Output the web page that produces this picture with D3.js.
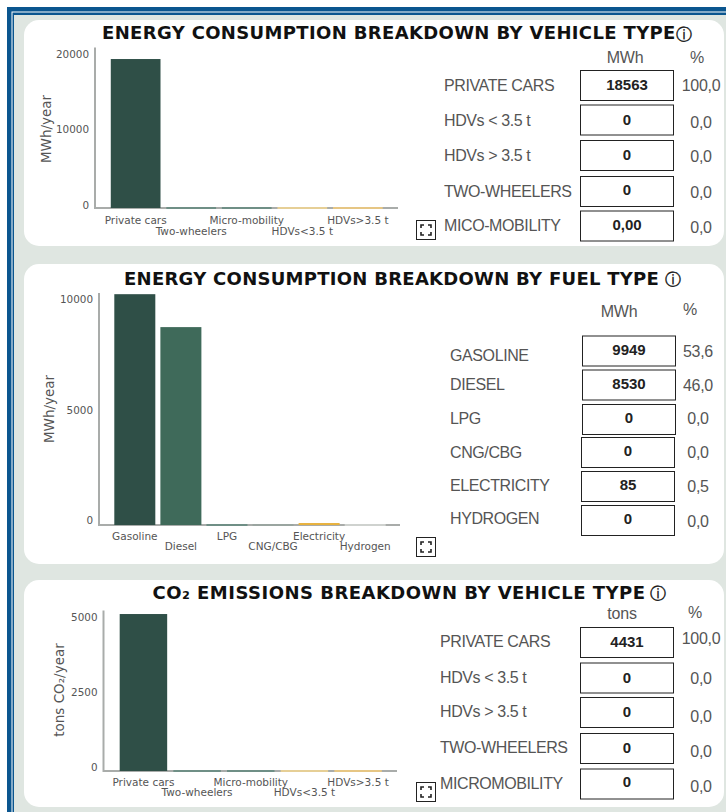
<!DOCTYPE html>
<html><head><meta charset="utf-8">
<script src="https://cdn.jsdelivr.net/npm/d3@7"></script>
<style>
html,body{margin:0;padding:0;background:#fff;overflow:hidden}
svg{display:block}
</style></head><body><svg id="c" width="726" height="812"></svg>
<script>
// ---- data ----
const vehicleCats = ["Private cars","Two-wheelers","Micro-mobility","HDVs<3.5 t","HDVs>3.5 t"];
const fuelCats = ["Gasoline","Diesel","LPG","CNG/CBG","Electricity","Hydrogen"];
const energyVehicleBars = [18563,0,0,0,0];
const energyFuelBars = [9949,8530,0,0,85,0];
const co2VehicleBars = [4890,0,0,0,0];
const energyVehicleTicks = [0,10000,20000];
const energyFuelTicks = [0,5000,10000];
const co2VehicleTicks = [0,2500,5000];
const vehicleColors = ["#2f4f47","#6f8f86","#6f8f86","#e6cf96","#e6c684"];
const fuelColors = ["#2f4f47","#3f6a5a","#6f8f86","#9aa5a0","#e8b23e","#cfd2cf"];

const rows1 = ["PRIVATE CARS","HDVs < 3.5 t","HDVs > 3.5 t","TWO-WHEELERS","MICO-MOBILITY"];
const vals1 = ["18563","0","0","0","0,00"];
const pct1 = ["100,0","0,0","0,0","0,0","0,0"];
const rows2 = ["GASOLINE","DIESEL","LPG","CNG/CBG","ELECTRICITY","HYDROGEN"];
const vals2 = ["9949","8530","0","0","85","0"];
const pct2 = ["53,6","46,0","0,0","0,0","0,5","0,0"];
const rows3 = ["PRIVATE CARS","HDVs < 3.5 t","HDVs > 3.5 t","TWO-WHEELERS","MICROMOBILITY"];
const vals3 = ["4431","0","0","0","0"];
const pct3 = ["100,0","0,0","0,0","0,0","0,0"];

// ---- layout ----
const svg = d3.select("#c");
const BG="#dfe6e1", BLUE="#0b568f", GRAY="#555", AX="#a9acaa";
const SANS='"DejaVu Sans",sans-serif', ARIAL='"Liberation Sans",Arial,sans-serif';

svg.append("rect").attr("x",7).attr("y",7).attr("width",719).attr("height",805).attr("fill",BLUE);
svg.append("rect").attr("x",11.5).attr("y",11.5).attr("width",714.5).attr("height",800.5).attr("fill","#fff");
svg.append("rect").attr("x",12.5).attr("y",12.5).attr("width",713.5).attr("height",799.5).attr("fill",BLUE);
svg.append("rect").attr("x",14).attr("y",15).attr("width",712).attr("height",797).attr("fill",BG);

const panels = [
 {card:[24,20,700,226], title:"ENERGY CONSUMPTION BREAKDOWN BY VEHICLE TYPE", tx:102, ty:39, ls:.35, icon:[683.5,34],
  cats:vehicleCats, bars:energyVehicleBars, colors:vehicleColors, ticks:energyVehicleTicks, max:20000,
  axX:95, axRight:398, top:47.5, base:208, tickTop:54, tickBase:205, band:[108,385.5], pad:[.105,.05],
  xl:[223.5,234.5], ylab:"MWh/year", ylx:46, yly:129,
  rows:rows1, vals:vals1, pct:pct1, unit:"MWh", ux:625, uy:57, px:697, py:57,
  lx:444, ly:[85,120,155,191,225], bx:580, bw:93, by:[70,104.5,140,176,210.5], bh:30,
  vy:[85,120,155,190,225], ptx:701, pty:[85,122,156,192,227], expand:[416,220]},
 {card:[24,264,700,300], title:"ENERGY CONSUMPTION BREAKDOWN BY FUEL TYPE", tx:124, ty:285, ls:.27, icon:[672.5,279],
  cats:fuelCats, bars:energyFuelBars, colors:fuelColors, ticks:energyFuelTicks, max:10000,
  axX:99, axRight:400, top:293, base:525, tickTop:299.5, tickBase:520.5, band:[112,388], pad:[.11,.05],
  xl:[540,550], ylab:"MWh/year", ylx:49, yly:409,
  rows:rows2, vals:vals2, pct:pct2, unit:"MWh", ux:619, uy:311, px:690, py:309,
  lx:450, ly:[355.5,384,418,452,485,518], bx:[582,582,582,581,581,581], bw:93, by:[335.5,369.5,404,437,471,505], bh:30,
  vy:[350,384,417.5,451,485,519], ptx:698, pty:[351,385,418,452,486,521], expand:[416,537]},
 {card:[24,580,700,227], title:"CO\u2082 EMISSIONS BREAKDOWN BY VEHICLE TYPE", tx:152.5, ty:599, ls:.48, icon:[658,593],
  cats:vehicleCats, bars:co2VehicleBars, colors:vehicleColors, ticks:co2VehicleTicks, max:5000,
  axX:103.5, axRight:397, top:610.5, base:771, tickTop:617, tickBase:767, band:[117,384.5], pad:[.115,.05],
  xl:[785.5,796], ylab:"tons CO\u2082/year", ylx:59, yly:690,
  rows:rows3, vals:vals3, pct:pct3, unit:"tons", ux:622, uy:613, px:695, py:612,
  lx:440, ly:[641.5,677,711,747,783], bx:580, bw:93, by:[627,662.5,697,733,768.5], bh:30,
  vy:[642,678,712,748,782], ptx:701, pty:[638,678,716,751,786], expand:[416,782]}
];

panels.forEach(p=>{
  const g = svg.append("g");
  g.append("rect").attr("x",p.card[0]).attr("y",p.card[1]).attr("width",p.card[2]).attr("height",p.card[3])
    .attr("rx",15).attr("fill","#fff");

  // title and info mark
  g.append("text").attr("x",p.tx).attr("y",p.ty).attr("font-family",SANS).attr("font-weight",700)
    .attr("font-size",18).attr("letter-spacing",p.ls).attr("fill","#111").text(p.title);
  g.append("text").attr("x",p.icon[0]).attr("y",p.icon[1]+5.5).attr("text-anchor","middle")
    .attr("font-family",SANS).attr("font-size",16).attr("fill","#111").attr("stroke","#111").attr("stroke-width",.35).text("\u24D8");

  // scales
  const x = d3.scaleBand().domain(p.cats).range(p.band).paddingInner(p.pad[0]).paddingOuter(p.pad[1]);
  const y = d3.scaleLinear().domain([0,p.max]).range([p.base,p.top]);
  const yTick = d3.scaleLinear().domain([0,p.max]).range([p.tickBase,p.tickTop]);

  // y axis labels
  const ya = g.append("g").attr("transform",`translate(${p.axX},0)`)
    .call(d3.axisLeft(yTick).tickValues(p.ticks).tickSize(0).tickPadding(6).tickFormat(d3.format("d")));
  ya.select(".domain").remove();
  ya.selectAll("text").attr("font-family",SANS).attr("font-size",10.4).attr("fill",GRAY);

  g.append("line").attr("x1",p.axX).attr("x2",p.axX).attr("y1",p.top).attr("y2",p.base+1).attr("stroke",AX).attr("stroke-width",2);

  // x axis
  const xa = g.append("g").attr("transform",`translate(0,${p.base})`)
    .call(d3.axisBottom(x).tickSize(0));
  xa.select(".domain").remove();
  xa.selectAll("text").attr("font-family",SANS).attr("font-size",10.5).attr("fill",GRAY)
    .attr("dy",null).attr("y",(d,i)=>p.xl[i%2]-p.base);
  g.append("line").attr("x1",p.axX).attr("x2",p.axRight).attr("y1",p.base).attr("y2",p.base).attr("stroke",AX).attr("stroke-width",2);

  // bars
  g.selectAll("rect.bar").data(p.bars).join("rect").attr("class","bar")
    .attr("x",(d,i)=>x(p.cats[i])).attr("width",x.bandwidth())
    .attr("y",d=>Math.min(y(d),p.base-1)).attr("height",d=>Math.max(p.base-y(d),2))
    .attr("fill",(d,i)=>p.colors[i]);

  g.append("text").attr("transform",`translate(${p.ylx},${p.yly}) rotate(-90)`).attr("text-anchor","middle")
    .attr("dy","0.35em").attr("font-family",SANS).attr("font-size",13.5).attr("fill",GRAY).text(p.ylab);

  // table
  const txt=(x0,y0,s,fs,anchor,w,col,sp)=>g.append("text").attr("x",x0).attr("y",y0).attr("dy","0.35em")
    .attr("text-anchor",anchor).attr("font-family",ARIAL).attr("font-size",fs).attr("font-weight",w)
    .attr("letter-spacing",sp||0).attr("fill",col).text(s);
  txt(p.ux,p.uy,p.unit,16,"middle",400,GRAY,-.2);
  txt(p.px,p.py,"%",16,"middle",400,GRAY);
  p.rows.forEach((r,i)=>{
    txt(p.lx,p.ly[i],r,16,"start",400,GRAY,-.4);
    const bx = Array.isArray(p.bx)?p.bx[i]:p.bx;
    g.append("rect").attr("x",bx+.5).attr("y",p.by[i]+.5).attr("width",p.bw).attr("height",p.bh)
      .attr("fill","#fff").attr("stroke","#222").attr("stroke-width",1);
    txt(bx+p.bw/2+.5,p.vy[i],p.vals[i],15,"middle",700,"#222");
    txt(p.ptx,p.pty[i],p.pct[i],16,"middle",400,GRAY,-.3);
  });

  // expand control
  const [ex,ey]=p.expand;
  g.append("rect").attr("x",ex+.5).attr("y",ey+.5).attr("width",19).attr("height",19).attr("fill","#fff").attr("stroke","#222");
  const a=5,b=14,l=3;
  g.append("path").attr("fill","none").attr("stroke","#222").attr("stroke-width",1.6).attr("d",
    `M${ex+a} ${ey+a+l}V${ey+a}H${ex+a+l}M${ex+b+1-l} ${ey+a}H${ex+b+1}V${ey+a+l}M${ex+a} ${ey+b+1-l}V${ey+b+1}H${ex+a+l}M${ex+b+1-l} ${ey+b+1}H${ex+b+1}V${ey+b+1-l}`);
});
</script></body></html>
